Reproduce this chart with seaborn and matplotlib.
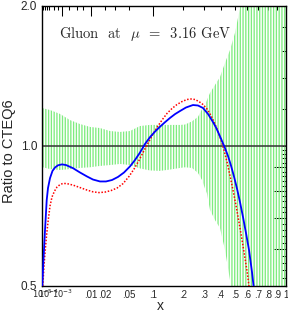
import numpy as np
import matplotlib
matplotlib.use("Agg")
import matplotlib.pyplot as plt
import matplotlib.ticker as mticker
import seaborn as sns

# ---------------- data ----------------
band_x = [6.2e-6, 1.29e-4, 7.5e-4, 2.24e-3, 5.0e-3, 9.45e-3, 0.0159, 0.0249, 0.0366,
          0.0516, 0.0702, 0.0928, 0.1198, 0.1516, 0.1886, 0.2092, 0.2404, 0.2695,
          0.2901, 0.3062, 0.3173, 0.3345, 0.3644, 0.3961, 0.4295, 0.4648, 0.5019,
          0.5409, 0.60, 0.70, 0.80, 0.90, 1.0]
band_hi = [1.207, 1.195, 1.172, 1.137, 1.115, 1.099, 1.093, 1.077, 1.072,
           1.077, 1.104, 1.110, 1.110, 1.110, 1.110, 1.112, 1.130, 1.155,
           1.200, 1.225, 1.256, 1.300, 1.353, 1.407, 1.508, 1.609, 1.750,
           1.980, 2.4, 3.0, 3.5, 4.0, 4.0]
band_lo = [0.901, 0.892, 0.888, 0.892, 0.897, 0.900, 0.906, 0.910, 0.915,
           0.910, 0.895, 0.886, 0.884, 0.890, 0.897, 0.900, 0.897, 0.875,
           0.845, 0.810, 0.790, 0.729, 0.693, 0.666, 0.598, 0.515, 0.45,
           0.40, 0.35, 0.30, 0.30, 0.30, 0.30]

blue_x = [7.4e-6, 1.30e-5, 2.81e-5, 5.15e-5, 7.62e-5, 1.288e-4, 2.215e-4, 3.52e-4,
          5.66e-4, 9.64e-4, 1.517e-3, 2.925e-3, 5.02e-3, 7.92e-3, 0.01116, 0.01593,
          0.02098, 0.02697, 0.03402, 0.04221, 0.05161, 0.06043, 0.07019, 0.0810,
          0.09283, 0.1058, 0.1198, 0.1351, 0.1516, 0.1695, 0.1886, 0.2134, 0.2451,
          0.2695, 0.2954, 0.3230, 0.3522, 0.3706, 0.3896, 0.4092, 0.4295, 0.4505,
          0.4720, 0.4943, 0.5174, 0.5409, 0.5654, 0.5906, 0.6165, 0.6430, 0.6574]
blue_y = [0.500, 0.560, 0.660, 0.765, 0.812, 0.853, 0.884, 0.899,
          0.909, 0.913, 0.910, 0.896, 0.877, 0.860, 0.847, 0.839,
          0.839, 0.845, 0.858, 0.877, 0.904, 0.933, 0.968, 1.010,
          1.045, 1.074, 1.100, 1.125, 1.149, 1.171, 1.189, 1.210, 1.225,
          1.222, 1.207, 1.172, 1.126, 1.096, 1.061, 1.025, 0.990, 0.952,
          0.908, 0.860, 0.810, 0.758, 0.704, 0.650, 0.598, 0.536, 0.500]

red_x = [9.94e-6, 1.82e-5, 2.81e-5, 4.82e-5, 7.62e-5, 1.288e-4, 2.00e-4, 3.23e-4,
         4.86e-4, 7.46e-4, 1.086e-3, 1.681e-3, 2.925e-3, 5.02e-3, 7.92e-3, 0.01116,
         0.01518, 0.02006, 0.02591, 0.03277, 0.04078, 0.04996, 0.05859, 0.06817,
         0.07655, 0.08559, 0.09785, 0.1112, 0.1258, 0.1416, 0.1586, 0.1769, 0.1966,
         0.2177, 0.2357, 0.2546, 0.2745, 0.2954, 0.3173, 0.3403, 0.3644, 0.3832,
         0.4026, 0.4227, 0.4435, 0.4648, 0.4869, 0.5097, 0.5330, 0.5572, 0.5822,
         0.6034, 0.6163]
red_y = [0.500, 0.552, 0.589, 0.641, 0.686, 0.743, 0.777, 0.800,
         0.816, 0.826, 0.831, 0.830, 0.824, 0.814, 0.804, 0.797,
         0.794, 0.796, 0.802, 0.812, 0.830, 0.860, 0.892, 0.931,
         0.968, 1.005, 1.051, 1.096, 1.137, 1.175, 1.204, 1.228, 1.246,
         1.259, 1.262, 1.259, 1.246, 1.228, 1.201, 1.163, 1.115, 1.074,
         1.030, 0.980, 0.924, 0.864, 0.804, 0.745, 0.686, 0.629, 0.574,
         0.530, 0.500]

ref_level = 1.0

xtick_vals = [1e-5, 1e-4, 1e-3, 0.01, 0.02, 0.05, 0.1, 0.2, 0.3, 0.4, 0.5, 0.6, 0.7, 0.8, 0.9, 1.0]
xtick_labels = [r"$10^{-5}$", r"$10^{-4}$", r"$10^{-3}$", ".01", ".02", ".05", ".1",
                ".2", ".3", ".4", ".5", ".6", ".7", ".8", ".9", "1"]
xtick_long = [1e-3, 0.01, 0.1]
xtick_minor = [3e-5, 6e-5, 3e-4, 6e-4, 2e-3, 4e-3, 6e-3, 0.03]

ytick_vals = [0.5, 0.6, 0.7, 0.8, 0.9, 1.0, 1.2, 1.4, 1.6, 1.8, 2.0]
ytick_labels = ["0.5", "", "", "", "", "1.0", "", "", "", "", "2.0"]
ytick_long = [0.6, 0.7, 0.8, 0.9]

title_text = r"Gluon  at  $\mu$  =  3.16 GeV"

# ---------------- style ----------------
sns.set_style("white")
plt.rcParams["font.family"] = ["Liberation Sans", "DejaVu Sans"]
plt.rcParams["hatch.linewidth"] = 0.95

fig = plt.figure(figsize=(2.88, 3.12), dpi=100)
ax = fig.add_axes([42 / 288, 26 / 312, 244 / 288, 280 / 312])

green = "#7fec7f"
ax.fill_between(band_x, band_lo, band_hi, facecolor="none", edgecolor=green,
                hatch="|" * 6, linewidth=0, zorder=1)
ax.axhline(ref_level, color="#333333", lw=1.1, zorder=2)

sns.lineplot(x=blue_x, y=blue_y, ax=ax, color="#0000ff", lw=1.3, sort=False, zorder=4)
sns.lineplot(x=red_x, y=red_y, ax=ax, color="#ff0000", lw=1.1, sort=False,
             linestyle=(0, (1, 1.1)), zorder=3)

ax.set_xscale("function", functions=(np.cbrt, lambda u: u ** 3))
ax.set_yscale("log")
ax.set_xlim(6.1e-6, 1.0)
ax.set_ylim(0.5, 2.0)

# x ticks
ax.xaxis.set_major_locator(mticker.FixedLocator(xtick_vals))
ax.xaxis.set_major_formatter(mticker.FixedFormatter(xtick_labels))
ax.xaxis.set_minor_locator(mticker.FixedLocator(xtick_minor))
ax.xaxis.set_minor_formatter(mticker.NullFormatter())
# y ticks
ax.yaxis.set_major_locator(mticker.FixedLocator(ytick_vals))
ax.yaxis.set_major_formatter(mticker.FixedFormatter(ytick_labels))
ymin = [v for v in np.round(np.arange(0.52, 1.0, 0.02), 2) if v not in ytick_vals]
ax.yaxis.set_minor_locator(mticker.FixedLocator(ymin))
ax.yaxis.set_minor_formatter(mticker.NullFormatter())

ax.tick_params(which="both", direction="in", top=True, right=True, width=0.75, color="black")
ax.tick_params(which="major", length=3.0)
ax.tick_params(which="minor", length=2.8)
ax.tick_params(axis="x", which="major", labelsize=7, pad=8.4)
ax.tick_params(axis="y", which="major", labelsize=8.5, pad=3.5)

for t, v in zip(ax.xaxis.get_major_ticks(), xtick_vals):
    t.label1.set_verticalalignment("baseline")
    if v in xtick_long:
        t.tick1line.set_markersize(7.0)
        t.tick2line.set_markersize(7.0)
for lab, v in zip(ax.get_xticklabels(), xtick_vals):
    if v < 0.005:
        lab.set_fontsize(6)
for t, v in zip(ax.yaxis.get_major_ticks(), ytick_vals):
    if v in ytick_long:
        t.tick1line.set_markersize(8.6)
        t.tick2line.set_markersize(8.6)

for sp in ax.spines.values():
    sp.set_linewidth(1.0)
    sp.set_color("black")

ax.set_xlabel("x", fontsize=10)
ax.xaxis.set_label_coords(0.485, -0.045)
ax.set_ylabel("Ratio to CTEQ6", fontsize=10.5)
ax.yaxis.set_label_coords(-0.105, 0.48)

ax.text(0.07, 0.9, title_text, transform=ax.transAxes, ha="left", va="center",
        fontsize=10.5, family="cmr10", math_fontfamily="cm", zorder=5)

fig.savefig("out.png", dpi=100)
